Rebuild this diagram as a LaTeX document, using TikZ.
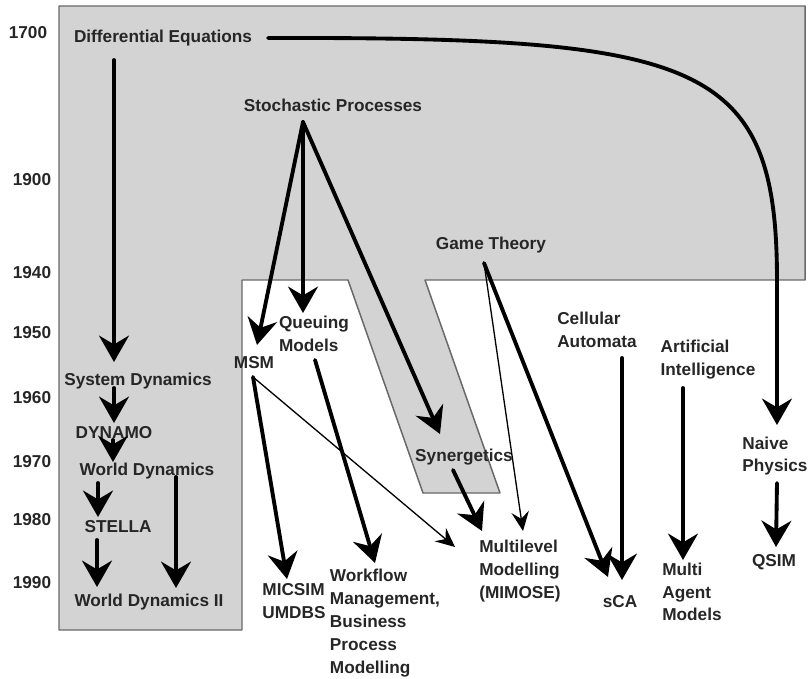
\documentclass[tikz,border=0pt]{standalone}
\usepackage{fontspec}
\setmainfont{Liberation Sans}
\usetikzlibrary{arrows.meta,calc}
\definecolor{panel}{RGB}{211,211,211}
\definecolor{rim}{RGB}{105,105,105}
\begin{document}
\begin{tikzpicture}[line join=round,line cap=round,>={Stealth[length=15pt,width=17pt,inset=5pt]},
	x=0.02cm,y=-0.02cm,font=\fontsize{9.8}{13}\selectfont\bfseries,
	lbl/.style={inner sep=1pt,align=left,text=black!85},
	arr/.style={->,line width=2.2pt},
	tarr/.style={-{Stealth[length=11pt,width=10pt,inset=4pt]},line width=0.75pt}]
					\useasboundingbox (0,0) rectangle (809,679);
					% shaded area
					\draw[fill=panel,draw=rim,line width=0.85pt] (59,6)--(805,6)--(805,280)--(425,280)--(500,493)--(423,493)--(348,280)--(242,280)--(242,630)--(59,630)--cycle;
					% years
					\node[lbl] (Y1700) at (28,33) {1700};
					\node[lbl] (Y1900) at (32,180) {1900};
					\node[lbl] (Y1940) at (32,273) {1940};
					\node[lbl] (Y1950) at (32,333) {1950};
					\node[lbl] (Y1960) at (32,398) {1960};
					\node[lbl] (Y1970) at (32,462) {1970};
					\node[lbl] (Y1980) at (32,520) {1980};
					\node[lbl] (Y1990) at (32,583) {1990};
					% methods
					\node[lbl] (DE) at (163,38) {Differential Equations};
					\node[lbl] (SP) at (333,105) {Stochastic Processes};
					\node[lbl] (GT) at (491,245) {Game Theory};
					\node[lbl] (CA) at (597,330) {Cellular\\Automata};
					\node[lbl] (AI) at (708,360) {Artificial\\Intelligence};
					\node[lbl] (NP) at (775,456) {Naive\\Physics};
					\node[lbl] (QS) at (774,562) {QSIM};
					\node[lbl] (SCA) at (620,602) {sCA};
					\node[lbl] (MAM) at (692,592) {Multi\\Agent\\Models};
					\node[lbl] (MLM) at (520,571) {Multilevel\\Modelling\\(MIMOSE)};
					\node[lbl] (SY) at (464,457) {Synergetics};
					\node[lbl] (WF) at (385,623) {Workflow\\Management,\\Business\\Process\\Modelling};
					\node[lbl] (MIC) at (294,601) {MICSIM\\UMDBS};
					\node[lbl] (MSM) at (254,363) {MSM};
					\node[lbl] (QM) at (314,334) {Queuing\\Models};
					\node[lbl] (SD) at (138,381) {System Dynamics};
					\node[lbl] (DY) at (114,433) {DYNAMO};
					\node[lbl] (WD) at (147,471) {World Dynamics};
					\node[lbl] (ST) at (118,527) {STELLA};
					\node[lbl] (WD2) at (149,602) {World Dynamics II};
					% connections
					\draw[arr] ($(DE)+(-49,22)$)--($(SD)+(-24,-19)$);
					\draw[arr] ($(DE)+(105,0)$) .. controls (700,37) and (777,60) .. (777,280)--($(NP)+(2,-31)$);
					\draw[arr] ($(SP)+(-30,17)$)--($(MSM)+(3,-18)$);
					\draw[arr] ($(SP)+(-30,17)$)--($(QM)+(-11,-21)$);
					\draw[arr] ($(SP)+(-30,17)$)--($(SY)+(-24,-23)$);
					\draw[tarr] ($(GT)+(-7,18)$)--($(MLM)+(3,-40)$);
					\draw[arr] ($(GT)+(-7,18)$)--($(SCA)+(-12,-25)$);
					\draw[arr] ($(CA)+(25,28)$)--($(SCA)+(2,-22)$);
					\draw[arr] ($(AI)+(-25,28)$)--($(MAM)+(-9,-32)$);
					\draw[arr] ($(NP)+(2,27)$)--($(QS)+(2,-15)$);
					\draw[arr] ($(SY)+(-11,13)$)--($(MLM)+(-38,-40)$);
					\draw[tarr] ($(MSM)+(-1,14)$)--($(MLM)+(-65,-24)$);
					\draw[arr] ($(MSM)+(-1,14)$)--($(MIC)+(-7,-22)$);
					\draw[arr] ($(QM)+(1,26)$)--($(WF)+(-10,-60)$);
					\draw[arr] ($(SD)+(-24,7)$)--($(DY)+(0,-10)$);
					\draw[arr] ($(DY)+(-1,7)$)--($(WD)+(-34,-9)$);
					\draw[arr] ($(WD)+(-49,12)$)--($(ST)+(-20,-10)$);
					\draw[arr] ($(WD)+(29,6)$)--($(WD2)+(27,-14)$);
					\draw[arr] ($(ST)+(-21,13)$)--($(WD2)+(-52,-15)$);
				\end{tikzpicture}
\end{document}
